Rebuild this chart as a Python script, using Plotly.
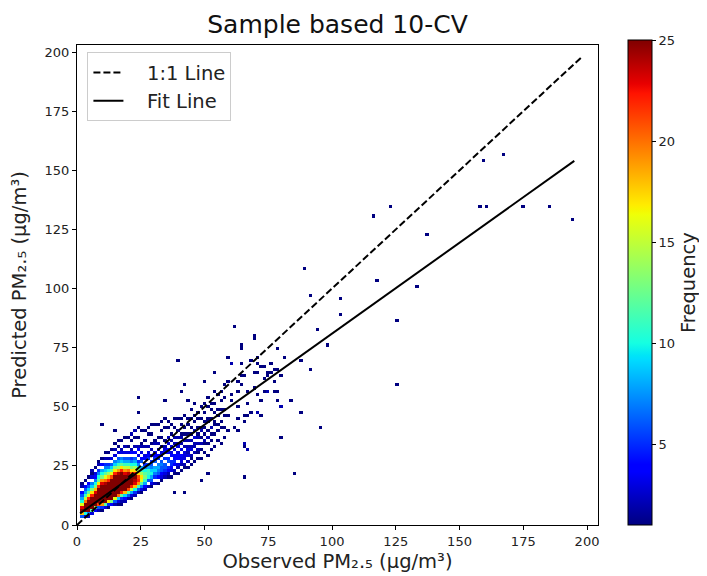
import numpy as np
import plotly.graph_objects as go

# ---------------- data ----------------
BIN = 1.3  # histogram bin width (both axes)

# dense band: for each x-bin column, first y-bin row and counts per row
# codes: '.'=0, '1'-'9', 'a'=10 ... 'p'=25
band_start_rows = [0, 2, 2, 2, 3, 4, 4, 4, 5, 5, 6, 6, 6, 6, 7, 8, 8, 9, 10, 10,
                   11, 12, 12, 13, 13, 14, 14, 15, 15, 16, 16, 17, 17, 18, 19, 20,
                   20, 21, 22, 22, 23, 25, 25, 26, 27]
band_counts = [
    "",
    "6ipnga864.21",
    "3apppkfb864.1",
    "27ppppmgc964.1",
    "3cppppmhd97.312",
    "4eppppnida743.1",
    "26lpppppmhca75.21",
    "15jppppppnjda8.4.1",
    "3cppppppokgc975.2.1",
    "15hppppppmiea75.2.1",
    "4dppppppplgc96.3..1",
    "26gpppppppmhd97.3.2.1",
    "139kppppppojeb86.3.1.1",
    "125cmppppppmhc97.32..1",
    "249ipppppnjfb86.3.2..1",
    "26clppppokfb86.3.1..1",
    "138fmppplhda75.42..1.1",
    "25ainopmhea86.4.2..1.1",
    "26bjmlhda75.3.42..1..1",
    "137cgheb8.64.3.21...1",
    "248bdca75.43..2.1..1",
    "2.6abb86.543.2...1.1",
    "1368a9765.3.2.1..1..1",
    "2.5798.6543..21....1",
    "1.46787.54.3.2.1...1",
    "1346676.43.2..1.1..1",
    ".23566.5.432.1...1..1",
    "1245.65.44.3.2..1.1",
    "1.3455.43.3.2.1..1",
    "12.4544.3.2.2..1..1",
    "1.23.443.32.2.1...1",
    "1.2334.3.2.21..1.1",
    ".12.333.2.2.1.1...1",
    "1.2.3232.2.1..1.1",
    "1.12.32.2.1.1..1..1",
    "1..2.22.3.2..1.1...1",
    ".1.12.2.21.1..1.1",
    "1..1.2.1.21..1...1",
    ".1..12.1.1.1..1..1",
    "1...1.2.1..11...1..1",
    ".1..1.1.2..1..1.1",
    "1...1..11..1..1...1",
    "..1..1.1..1.1....1",
    "1....1.1...1..1..1",
    ".1..1...1.1...1...1",
]

# isolated observations (observed, predicted)
outlier_obs = [58.7, 60.0, 63.9, 64.6, 69.8, 70.5, 70.5, 71.1, 74.4, 76.3, 75.0, 74.4,
               64.6, 62.6, 67.2, 70.5, 70.5, 67.2, 65.3, 62.6, 62.6, 58.7, 65.9, 67.2,
               59.3, 63.4, 65.9, 61.6, 69.4, 64.2, 78.9, 81.6, 71.8, 73.1, 69.4, 74.5,
               78.3, 62.9, 64.2, 80.0, 73.4, 69.2, 77.3, 78.3, 73.7, 77.6, 66.8, 80.3,
               84.2, 88.1, 72.2, 68.2, 65.5, 96.0, 80.3, 65.5, 66.8, 85.5, 60.3, 88.1,
               92.0, 77.4, 80.0, 61.6, 70.8, 60.0, 61.0, 59.5, 66.0, 68.0, 76.0, 72.0,
               78.0, 39.1, 53.7, 49.8, 41.7, 40.4, 33.9, 43.0, 24.3, 24.3, 22.1, 21.4,
               9.7, 14.9, 37.8, 41.7, 48.2, 51.5, 65.2,
               89.4, 117.3, 92.0, 102.7, 102.7, 94.6, 97.5, 167.6, 159.7, 158.4, 161.0,
               174.4, 184.8, 194.3, 122.5, 115.9, 137.1, 133.2, 125.4, 125.4]
outlier_pred = [71.2, 68.4, 68.4, 75.4, 79.6, 71.2, 67.7, 64.9, 63.4, 64.0, 57.0, 56.4,
                59.2, 56.4, 57.0, 55.7, 47.2, 45.8, 45.8, 44.4, 40.2, 40.2, 34.0, 32.4,
                46.5, 50.0, 20.4, 83.2, 79.2, 75.1, 75.1, 71.2, 67.2, 67.2, 64.4, 64.4,
                66.3, 60.6, 62.4, 62.4, 61.3, 57.8, 59.9, 57.1, 56.7, 56.7, 51.2, 50.0,
                52.6, 47.2, 45.8, 47.2, 43.3, 40.5, 36.5, 33.8, 32.4, 21.9, 68.6, 69.8,
                65.8, 65.8, 49.8, 40.9, 47.2, 55.0, 52.0, 60.0, 63.0, 70.0, 68.0, 53.0,
                53.0, 69.8, 64.6, 60.6, 59.2, 56.4, 52.6, 52.6, 54.0, 47.2, 40.2, 38.8,
                41.6, 39.5, 14.1, 14.1, 19.3, 21.9, 34.2,
                108.5, 103.2, 96.5, 95.1, 88.5, 82.0, 76.4, 156.6, 153.9, 135.2, 133.9,
                133.9, 133.9, 129.9, 135.2, 131.2, 123.2, 100.5, 85.8, 59.2]

one_to_one_x = [0.0, 198.0]
one_to_one_y = [0.0, 198.0]
fit_line_x = [1.2, 195.0]
fit_line_y = [4.9, 154.0]

x_ticks = [0, 25, 50, 75, 100, 125, 150, 175, 200]
y_ticks = [0, 25, 50, 75, 100, 125, 150, 175, 200]
cbar_ticks = [5, 10, 15, 20, 25]

# ---------------- build the 2D histogram grid ----------------
NX, NY = int(np.ceil(205 / BIN)), int(np.ceil(165 / BIN))
z = np.zeros((NY, NX))


def decode(ch):
    if ch == ".":
        return 0
    if ch.isdigit():
        return int(ch)
    return ord(ch) - ord("a") + 10


for col, (start, codes) in enumerate(zip(band_start_rows, band_counts)):
    for k, ch in enumerate(codes):
        z[start + k, col] += decode(ch)
for ox, oy in zip(outlier_obs, outlier_pred):
    z[int(oy / BIN), int(ox / BIN)] += 1

zz = [[(v if v > 0 else None) for v in row] for row in z]
xc = [(i + 0.5) * BIN for i in range(NX)]
yc = [(j + 0.5) * BIN for j in range(NY)]

# matplotlib 'jet'
stops = [0, 0.11, 0.125, 0.34, 0.35, 0.375, 0.64, 0.65, 0.66, 0.89, 0.91, 1]
r = np.interp(stops, [0, 0.35, 0.66, 0.89, 1], [0, 0, 1, 1, 0.5])
g = np.interp(stops, [0, 0.125, 0.375, 0.64, 0.91, 1], [0, 0, 1, 1, 0, 0])
b = np.interp(stops, [0, 0.11, 0.34, 0.65, 1], [0.5, 1, 1, 0, 0])
jet = [[s, f"rgb({int(round(rr*255))},{int(round(gg*255))},{int(round(bb*255))})"]
       for s, rr, gg, bb in zip(stops, r, g, b)]

FONT = "DejaVu Sans"
NB = "\u00a0"

# page body has an 8px default margin: figure is sized to fill the rest
W, H = 699, 568

fig = go.Figure()
fig.add_trace(go.Heatmap(
    x=xc, y=yc, z=zz, zmin=1, zmax=25, colorscale=jet, hoverinfo="skip",
    showscale=True, showlegend=False,
    colorbar=dict(
        x=1.0576, xanchor="left", xpad=0, ypad=0,
        y=0.505, yanchor="middle", len=1.0104, lenmode="fraction",
        thickness=24, outlinewidth=1, outlinecolor="black",
        tickvals=cbar_ticks, ticks="outside", ticklen=4, tickcolor="black",
        tickfont=dict(family=FONT, size=13, color="#222"),
        title=dict(text="Frequency", side="right",
                   font=dict(family=FONT, size=19.5, color="#222")),
    ),
))
fig.add_trace(go.Scatter(
    x=one_to_one_x, y=one_to_one_y, mode="lines", name=NB * 3 + "1:1 Line",
    line=dict(color="black", width=2, dash="7px,3px"),
))
fig.add_trace(go.Scatter(
    x=fit_line_x, y=fit_line_y, mode="lines", name=NB * 3 + "Fit Line",
    line=dict(color="black", width=2),
))

axis_common = dict(
    showline=True, mirror=True, linecolor="black", linewidth=1, automargin=False,
    ticks="outside", ticklen=4, tickcolor="black", showgrid=False, zeroline=False,
    tickfont=dict(family=FONT, size=13, color="#222"),
)
fig.update_layout(
    width=W, height=H,
    margin=dict(l=69, r=109, t=37, b=51, autoexpand=False),
    paper_bgcolor="white", plot_bgcolor="white",
    title=dict(text="Sample based 10-CV", x=0.5, xref="paper", y=1 - 16.5 / H,
               yanchor="middle", font=dict(family=FONT, size=25, color="#111")),
    xaxis=dict(range=[0, 204.3], tickvals=x_ticks, **axis_common,
               title=dict(text="Observed PM₂.₅ (μg/m³)", standoff=6,
                          font=dict(family=FONT, size=19.5, color="#222"))),
    yaxis=dict(range=[0, 203], tickvals=y_ticks, **axis_common,
               title=dict(text="Predicted PM₂.₅ (μg/m³)", standoff=15,
                          font=dict(family=FONT, size=19.5, color="#222"))),
    legend=dict(x=0.02, y=0.985, xanchor="left", yanchor="top",
                bgcolor="white", bordercolor="#cccccc", borderwidth=1,
                font=dict(family=FONT, size=19.5, color="#222")),
)

fig.write_html("out.html")
